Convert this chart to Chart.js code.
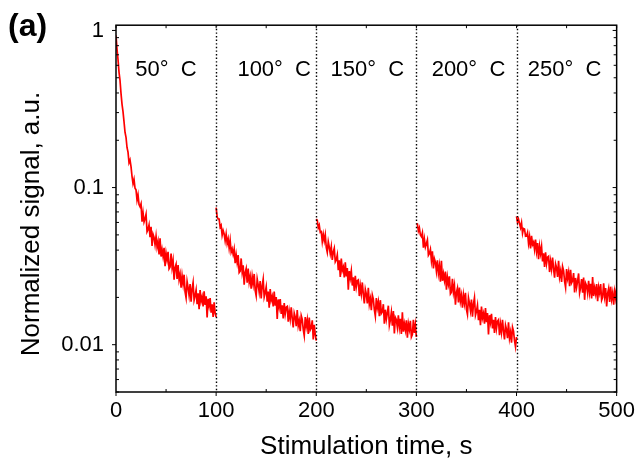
<!DOCTYPE html>
<html><head><meta charset="utf-8">
<script src="https://cdn.jsdelivr.net/npm/chart.js@4.4.1/dist/chart.umd.min.js"></script>
<style>html,body{margin:0;padding:0;background:#fff;}canvas{display:block;}</style>
</head><body>
<canvas id="c" width="641" height="469"></canvas>
<script>
// ---- data ----
const temperatures = ['50°  C', '100°  C', '150°  C', '200°  C', '250°  C'];
const segmentStart = [0, 100, 200, 300, 400];   // s
const timeStep = 1;                              // s between samples
const sig50 = [0.93,0.761,0.655,0.543,0.482,0.398,0.340,0.304,0.263,0.225,
0.209,0.180,0.168,0.144,0.150,0.136,0.118,0.106,0.113,0.099,
0.0967,0.0832,0.0899,0.0780,0.0756,0.0789,0.0607,0.0692,0.0604,0.0635,
0.0677,0.0524,0.0542,0.0579,0.0483,0.0563,0.0425,0.0504,0.0481,0.0432,
0.0490,0.0419,0.0454,0.0376,0.0476,0.0364,0.0404,0.0365,0.0414,0.0316,
0.0382,0.0347,0.0390,0.0304,0.0312,0.0380,0.0311,0.0343,0.0259,0.0309,
0.0325,0.0262,0.0321,0.0260,0.0281,0.0231,0.0275,0.0243,0.0279,0.0217,
0.0199,0.0253,0.0231,0.0206,0.0243,0.0188,0.0227,0.0249,0.0192,0.0205,
0.0223,0.0181,0.0212,0.0168,0.0223,0.0189,0.0202,0.0175,0.0219,0.0179,
0.0203,0.0149,0.0196,0.0177,0.0198,0.0160,0.0181,0.0150,0.0186,0.0159,
0.0150];
const sig100 = [0.0745,0.0651,0.0631,0.0630,0.0560,0.0575,0.0497,0.0533,0.0507,0.0458,
0.0506,0.0441,0.0472,0.0412,0.0462,0.0389,0.0408,0.0376,0.0407,0.0330,
0.0374,0.0333,0.0372,0.0288,0.0294,0.0354,0.0290,0.0320,0.0241,0.0288,
0.0305,0.0248,0.0305,0.0250,0.0272,0.0227,0.0272,0.0243,0.0282,0.0222,
0.0205,0.0262,0.0240,0.0216,0.0254,0.0197,0.0237,0.0261,0.0201,0.0214,
0.0233,0.0188,0.0218,0.0172,0.0226,0.0192,0.0203,0.0175,0.0218,0.0177,
0.0201,0.0146,0.0194,0.0174,0.0195,0.0157,0.0178,0.0147,0.0184,0.0157,
0.0173,0.0175,0.0140,0.0163,0.0146,0.0173,0.0147,0.0129,0.0159,0.0150,
0.0131,0.0166,0.0132,0.0142,0.0122,0.0153,0.0145,0.0125,0.0114,0.0150,
0.0131,0.0144,0.0117,0.0149,0.0124,0.0128,0.0143,0.0108,0.0134,0.0116,
0.0106];
const sig150 = [0.0632,0.0619,0.0555,0.0577,0.0519,0.0524,0.0453,0.0504,0.0458,0.0501,
0.0417,0.0388,0.0452,0.0417,0.0380,0.0420,0.0346,0.0389,0.0411,0.0337,
0.0347,0.0373,0.0298,0.0344,0.0270,0.0353,0.0297,0.0312,0.0268,0.0334,
0.0272,0.0307,0.0224,0.0294,0.0266,0.0295,0.0238,0.0268,0.0220,0.0274,
0.0233,0.0255,0.0258,0.0204,0.0237,0.0211,0.0249,0.0210,0.0183,0.0225,
0.0210,0.0183,0.0230,0.0181,0.0196,0.0166,0.0207,0.0195,0.0167,0.0152,
0.0198,0.0172,0.0187,0.0152,0.0192,0.0158,0.0162,0.0181,0.0136,0.0167,
0.0145,0.0159,0.0177,0.0133,0.0144,0.0161,0.0132,0.0164,0.0118,0.0149,
0.0144,0.0129,0.0154,0.0129,0.0146,0.0117,0.0161,0.0121,0.0136,0.0124,
0.0143,0.0111,0.0136,0.0125,0.0142,0.0112,0.0116,0.0144,0.0119,0.0134,
0.0112];
const sig200 = [0.0588,0.0586,0.0529,0.0554,0.0499,0.0487,0.0516,0.0414,0.0470,0.0418,
0.0439,0.0464,0.0371,0.0381,0.0404,0.0344,0.0393,0.0306,0.0352,0.0335,
0.0294,0.0344,0.0285,0.0317,0.0252,0.0342,0.0255,0.0283,0.0257,0.0292,
0.0224,0.0269,0.0243,0.0272,0.0211,0.0216,0.0263,0.0216,0.0238,0.0180,
0.0215,0.0229,0.0186,0.0231,0.0189,0.0206,0.0172,0.0207,0.0184,0.0214,
0.0168,0.0156,0.0199,0.0183,0.0165,0.0194,0.0151,0.0181,0.0199,0.0154,
0.0163,0.0178,0.0143,0.0167,0.0133,0.0175,0.0148,0.0158,0.0136,0.0171,
0.0139,0.0159,0.0116,0.0154,0.0139,0.0157,0.0127,0.0144,0.0119,0.0150,
0.0127,0.0141,0.0144,0.0115,0.0135,0.0120,0.0144,0.0122,0.0108,0.0133,
0.0125,0.0110,0.0139,0.0110,0.0120,0.0103,0.0129,0.0122,0.0106,0.0097,
0.0112];
const sig250 = [0.0655,0.0599,0.0629,0.0592,0.0556,0.0597,0.0512,0.0549,0.0545,0.0490,
0.0492,0.0517,0.0441,0.0486,0.0410,0.0493,0.0434,0.0449,0.0403,0.0467,
0.0393,0.0443,0.0350,0.0423,0.0380,0.0422,0.0339,0.0381,0.0312,0.0387,
0.0328,0.0360,0.0365,0.0290,0.0339,0.0303,0.0359,0.0305,0.0267,0.0327,
0.0309,0.0270,0.0342,0.0270,0.0294,0.0251,0.0314,0.0296,0.0254,0.0232,
0.0303,0.0265,0.0289,0.0236,0.0300,0.0247,0.0255,0.0286,0.0215,0.0266,
0.0232,0.0254,0.0284,0.0214,0.0231,0.0262,0.0214,0.0268,0.0193,0.0246,
0.0237,0.0213,0.0255,0.0215,0.0244,0.0197,0.0270,0.0204,0.0230,0.0211,
0.0243,0.0189,0.0232,0.0214,0.0243,0.0192,0.0200,0.0246,0.0204,0.0229,
0.0175,0.0212,0.0228,0.0187,0.0234,0.0195,0.0214,0.0180,0.0218,0.0198,
0.0231];
const xTicks = [0, 100, 200, 300, 400, 500];
const yTicks = [0.01, 0.1, 1];
const yTickLabels = ['0.01', '0.1', '1'];
const xTitle = 'Stimulation time, s';
const yTitle = 'Normalized signal, a.u.';
const panelLabel = '(a)';

// ---- layout (not data) ----
const FONT = "'Liberation Sans', Arial, Helvetica, sans-serif";
const tempLabelX = [50, 158, 251, 352, 448];
const tempLabelLevel = 0.56;

const segments = [sig50, sig100, sig150, sig200, sig250];
const datasets = segments.map((vals, k) => ({
  label: temperatures[k],
  data: vals.map((v, i) => ({ x: segmentStart[k] + i * timeStep, y: v })),
  borderColor: '#ff0000',
  borderWidth: 1.7,
  pointRadius: 0,
  tension: 0,
  fill: false
}));

const decor = {
  id: 'decor',
  afterDatasetsDraw(chart) {
    const { ctx, chartArea: a, scales: { x, y } } = chart;
    ctx.save();
    const line = (x1, y1, x2, y2) => { ctx.beginPath(); ctx.moveTo(x1, y1); ctx.lineTo(x2, y2); ctx.stroke(); };
    // dotted separators
    ctx.strokeStyle = '#000';
    ctx.lineWidth = 1.4;
    ctx.setLineDash([1.4, 2.2]);
    segmentStart.slice(1).forEach(s => {
      const px = Math.round(x.getPixelForValue(s)) + 0.5;
      line(px, a.top, px, a.bottom);
    });
    ctx.setLineDash([]);
    // frame
    ctx.lineWidth = 1.5;
    ctx.strokeRect(a.left, a.top, a.right - a.left, a.bottom - a.top);
    // ticks
    ctx.lineWidth = 1;
    for (let v = 0; v <= 500; v += 50) {
      const px = x.getPixelForValue(v);
      if (v % 100 === 0) line(px, a.bottom, px, a.bottom + 4);
      else line(px, a.bottom, px, a.bottom - 3);
      line(px, a.top, px, a.top + 3);
    }
    [0.001, 0.01, 0.1, 1].forEach(d => {
      for (let m = 1; m <= 9; m++) {
        const v = m * d;
        if (v < y.min || v > y.max) continue;
        const py = y.getPixelForValue(v);
        if (m === 1) { line(a.left - 4, py, a.left, py); line(a.right, py, a.right - 4, py); }
        else { line(a.left, py, a.left + 3, py); line(a.right, py, a.right - 3, py); }
      }
    });
    // temperature labels
    ctx.fillStyle = '#000';
    ctx.font = `22px ${FONT}`;
    ctx.textAlign = 'center';
    ctx.textBaseline = 'middle';
    temperatures.forEach((t, i) => ctx.fillText(t, x.getPixelForValue(tempLabelX[i]), y.getPixelForValue(tempLabelLevel)));
    // axis titles
    ctx.font = `26px ${FONT}`;
    ctx.fillText(xTitle, (a.left + a.right) / 2, 447);
    ctx.save();
    ctx.translate(32, 224);
    ctx.rotate(-Math.PI / 2);
    ctx.fillText(yTitle, 0, 0);
    ctx.restore();
    // panel label
    ctx.font = `bold 32px ${FONT}`;
    ctx.textAlign = 'left';
    ctx.textBaseline = 'alphabetic';
    ctx.fillText(panelLabel, 8, 36);
    ctx.restore();
  }
};

new Chart(document.getElementById('c'), {
  type: 'line',
  data: { datasets },
  plugins: [decor],
  options: {
    responsive: false,
    animation: false,
    devicePixelRatio: 1,
    events: [],
    layout: { padding: { top: 20, right: 22, left: 0, bottom: 0 } },
    plugins: { legend: { display: false }, tooltip: { enabled: false } },
    scales: {
      x: {
        type: 'linear', min: 0, max: 500,
        grid: { display: false, drawTicks: false },
        border: { display: false },
        afterBuildTicks: s => { s.ticks = xTicks.map(v => ({ value: v })); },
        afterFit: s => { s.height = 77; },
        ticks: { padding: 6, color: '#000', font: { size: 22, family: FONT }, maxRotation: 0, autoSkip: false,
                 callback: v => String(v) }
      },
      y: {
        type: 'logarithmic', min: 0.005, max: 1.08,
        grid: { display: false, drawTicks: false },
        border: { display: false },
        afterBuildTicks: s => { s.ticks = yTicks.map(v => ({ value: v })); },
        afterFit: s => { s.width = 116; },
        ticks: { padding: 12, color: '#000', font: { size: 22, family: FONT }, autoSkip: false,
                 callback: v => { const i = yTicks.indexOf(v); return i >= 0 ? yTickLabels[i] : ''; } }
      }
    }
  }
});
</script>
</body></html>
